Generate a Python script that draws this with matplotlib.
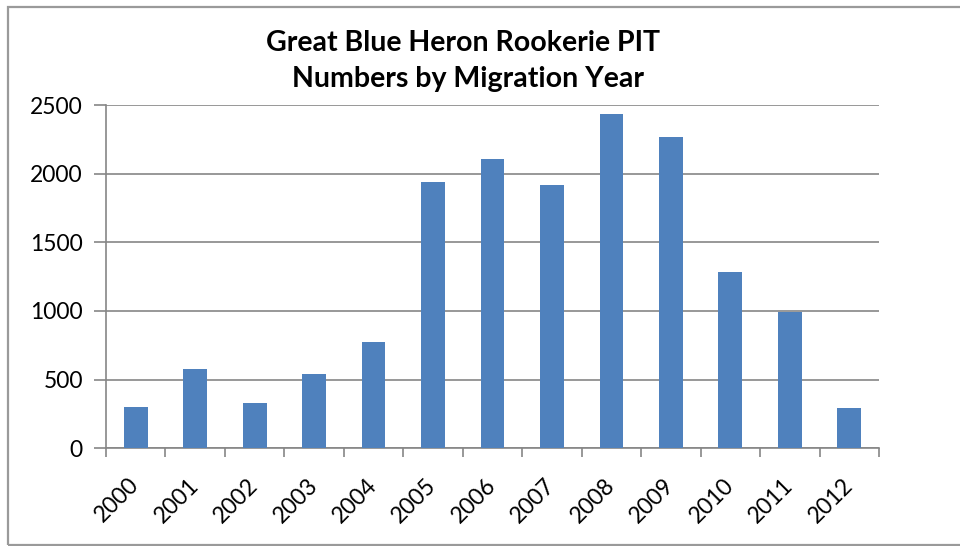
import matplotlib.pyplot as plt
from matplotlib.patches import Rectangle

years = ["2000", "2001", "2002", "2003", "2004", "2005", "2006",
         "2007", "2008", "2009", "2010", "2011", "2012"]
counts = [303, 575, 330, 540, 772, 1941, 2104, 1918, 2432, 2269, 1286, 995, 296]
y_ticks = [0, 500, 1000, 1500, 2000, 2500]

BAR = "#4f81bd"
GRID = "#868686"
W, H = 960, 546

fig = plt.figure(figsize=(W / 100, H / 100), dpi=100)
fig.patch.set_facecolor("white")

# chart frame
fig.add_artist(Rectangle((8 / W, 1 - 545 / H), (W + 5 - 8) / W, (545 - 7) / H,
                         transform=fig.transFigure, fill=False,
                         edgecolor="#9a9a9a", linewidth=1.6))

ax = fig.add_axes([106 / W, 1 - 448.3 / H, (879 - 106) / W, (448.3 - 105) / H])
x = list(range(len(years)))
ax.bar(x, counts, width=0.4, color=BAR, zorder=3)

ax.set_xlim(-0.5, len(years) - 0.5)
ax.set_ylim(0, 2500)
ax.set_yticks(y_ticks)
ax.set_yticklabels([str(v) for v in y_ticks], fontsize=16.5, family="Lato")
ax.yaxis.grid(True, color=GRID, linewidth=1.2, zorder=0)
ax.tick_params(axis="y", length=8.6, width=1.2, color=GRID, pad=8)

# category ticks sit between bars
ax.set_xticks([i - 0.5 for i in range(len(years) + 1)], minor=False)
ax.set_xticklabels([""] * (len(years) + 1))
ax.tick_params(axis="x", which="major", length=6.5, width=1.2, color=GRID)
ax.set_xticks(x, minor=True)
ax.set_xticklabels(years, minor=True, rotation=45, ha="right", va="center",
                   rotation_mode="anchor", fontsize=16.5, family="Lato")
ax.tick_params(axis="x", which="minor", length=0, pad=24)

for side in ["top", "right"]:
    ax.spines[side].set_visible(False)
for side in ["left", "bottom"]:
    ax.spines[side].set_color(GRID)
    ax.spines[side].set_linewidth(1.2)

fig.text(463 / W, 1 - 43 / H, "Great Blue Heron Rookerie PIT",
         ha="center", va="center", fontsize=20.5, fontweight="bold", family="Lato")
fig.text(468 / W, 1 - 79 / H, "Numbers by Migration Year",
         ha="center", va="center", fontsize=20.5, fontweight="bold", family="Lato")

fig.savefig("out.png", dpi=100, facecolor="white")
